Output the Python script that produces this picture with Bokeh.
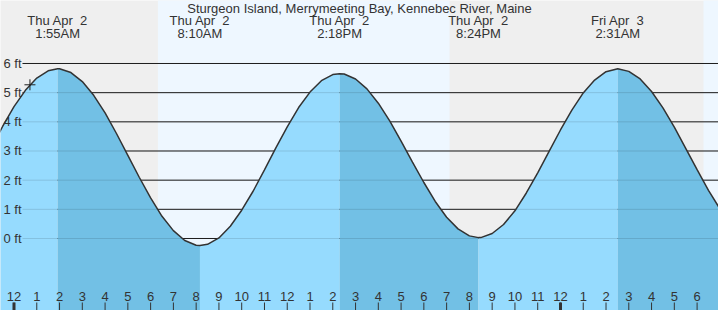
from bokeh.plotting import figure
from bokeh.models import Range1d
from bokeh.core.properties import value
from bokeh.embed import file_html
from bokeh.resources import INLINE

# ---------------- data ----------------
title_text = "Sturgeon Island, Merrymeeting Bay, Kennebec River, Maine"

# hours after midnight Thu Apr 2, tide height in ft
times_hr = [-1.0, -0.5, 0.0, 0.5, 1.0, 1.5, 1.917, 2.0, 2.5, 3.0, 3.5, 4.0, 4.5,
            5.0, 5.5, 6.0, 6.5, 7.0, 7.5, 8.0, 8.167, 8.5, 9.0, 9.5, 10.0, 10.5,
            11.0, 11.5, 12.0, 12.5, 13.0, 13.5, 14.0, 14.3, 14.5, 15.0, 15.5,
            16.0, 16.5, 17.0, 17.5, 18.0, 18.5, 19.0, 19.5, 20.0, 20.4, 20.5,
            21.0, 21.5, 22.0, 22.5, 23.0, 23.5, 24.0, 24.5, 25.0, 25.5, 26.0,
            26.517, 27.0, 27.5, 28.0, 28.5, 29.0, 29.5, 30.0, 30.5, 31.0]
heights_ft = [3.10, 3.84, 4.52, 5.08, 5.50, 5.75, 5.82, 5.82, 5.69, 5.38, 4.91, 4.31, 3.60,
              2.85, 2.10, 1.39, 0.76, 0.27, -0.07, -0.23, -0.24, -0.20, 0.02, 0.42, 0.97, 1.62,
              2.35, 3.11, 3.83, 4.49, 5.02, 5.41, 5.62, 5.65, 5.64, 5.47, 5.13,
              4.64, 4.03, 3.34, 2.62, 1.92, 1.27, 0.73, 0.33, 0.09, 0.03, 0.03,
              0.17, 0.48, 0.95, 1.56, 2.25, 2.99, 3.72, 4.40, 4.99, 5.43, 5.72,
              5.82, 5.73, 5.47, 5.04, 4.48, 3.82, 3.09, 2.36, 1.65, 1.02]

extreme_times = [1.917, 8.167, 14.3, 20.4, 26.517]
extreme_dates = ["Thu Apr \u00a02", "Thu Apr \u00a02", "Thu Apr \u00a02", "Thu Apr \u00a02", "Fri Apr \u00a03"]
extreme_clock = ["1:55AM", "8:10AM", "2:18PM", "8:24PM", "2:31AM"]

day_start = [6.32, 30.28]
day_end = [19.13, 32.0]

hour_ticks = [0, 1, 2, 3, 4, 5, 6, 7, 8, 9, 10, 11, 12, 13, 14, 15, 16, 17, 18, 19,
              20, 21, 22, 23, 24, 25, 26, 27, 28, 29, 30]
hour_labels = ["12", "1", "2", "3", "4", "5", "6", "7", "8", "9", "10", "11",
               "12", "1", "2", "3", "4", "5", "6", "7", "8", "9", "10", "11",
               "12", "1", "2", "3", "4", "5", "6"]
midnight_ticks = [0, 24]

ft_ticks = [0, 1, 2, 3, 4, 5, 6]
ft_labels = ["0 ft", "1 ft", "2 ft", "3 ft", "4 ft", "5 ft", "6 ft"]

now_time = [0.70]
now_height = [5.27]

# ---------------- layout / style ----------------
W, H = 718, 310
X0, X1 = -0.593, 30.94
Y0, Y1 = -2.469, 8.160
px_per_hr = W / (X1 - X0)
px_per_ft = H / (Y1 - Y0)

NIGHT = "#efefef"
DAY = "#eef7ff"
LIGHT = "#96dbfe"
DARK = "#72c0e5"
TXT = "#333333"
FONT = value("Liberation Sans")

p = figure(width=W, height=H, output_backend="svg", toolbar_location=None,
           x_range=Range1d(X0, X1), y_range=Range1d(Y0, Y1), min_border=0)
p.axis.visible = False
p.grid.visible = False
p.outline_line_color = None
p.background_fill_color = NIGHT
p.border_fill_color = NIGHT

# day bands
p.quad(left=day_start, right=day_end, bottom=Y0 - 1, top=Y1 + 1,
       fill_color=DAY, line_color=None)

# grid lines (under the water)
gx0 = X0 + 22 / px_per_hr
p.segment(x0=[gx0] * len(ft_ticks), x1=[X1 + 1] * len(ft_ticks), y0=ft_ticks, y1=ft_ticks,
          line_color="#222222", line_width=1)

# water fill: rising light, falling dark
bounds = [times_hr[0]] + extreme_times + [times_hr[-1]]
for i in range(len(bounds) - 1):
    a, b = bounds[i], bounds[i + 1]
    xs = [t for t in times_hr if a <= t <= b]
    ys = [h for t, h in zip(times_hr, heights_ft) if a <= t <= b]
    p.varea(x=xs, y1=[Y0 - 1] * len(xs), y2=ys, fill_color=LIGHT if i % 2 == 0 else DARK)

# grid lines seen through water
p.segment(x0=[gx0] * len(ft_ticks), x1=[X1 + 1] * len(ft_ticks), y0=ft_ticks, y1=ft_ticks,
          line_color="#000000", line_alpha=0.12, line_width=1)

# tide curve
p.line(times_hr, heights_ft, line_color="#333333", line_width=1.5)

# current-time cross
p.scatter(now_time, now_height, marker="cross", size=11, line_color="#222222", line_width=1)

# y labels
p.text(x=[X0] * len(ft_ticks), y=ft_ticks, text=ft_labels, x_offset=3,
       text_font=FONT, text_font_size="13px", text_color=TXT,
       text_align="left", text_baseline="middle")

# title
p.text(x=[(X0 + X1) / 2], y=[Y1], text=[title_text], y_offset=8,
       text_font=FONT, text_font_size="13px", text_color=TXT,
       text_align="center", text_baseline="middle")

# extreme labels
p.text(x=extreme_times, y=[Y1] * len(extreme_times), text=extreme_dates, y_offset=20,
       text_font=FONT, text_font_size="13px", text_color=TXT,
       text_align="center", text_baseline="middle")
p.text(x=extreme_times, y=[Y1] * len(extreme_times), text=extreme_clock, y_offset=33,
       text_font=FONT, text_font_size="13px", text_color=TXT,
       text_align="center", text_baseline="middle")

# hour ticks and labels
tick_top = Y0 + 8 / px_per_ft
p.segment(x0=hour_ticks, x1=hour_ticks, y0=[Y0] * len(hour_ticks), y1=[tick_top] * len(hour_ticks),
          line_color="#333333", line_width=1)
p.segment(x0=midnight_ticks, x1=midnight_ticks, y0=[Y0] * 2, y1=[tick_top] * 2,
          line_color="#333333", line_width=3)
p.text(x=hour_ticks, y=[Y0] * len(hour_ticks), text=hour_labels, y_offset=-14,
       text_font=FONT, text_font_size="13px", text_color=TXT,
       text_align="center", text_baseline="middle")

open("out.html", "w").write(file_html(p, INLINE))
